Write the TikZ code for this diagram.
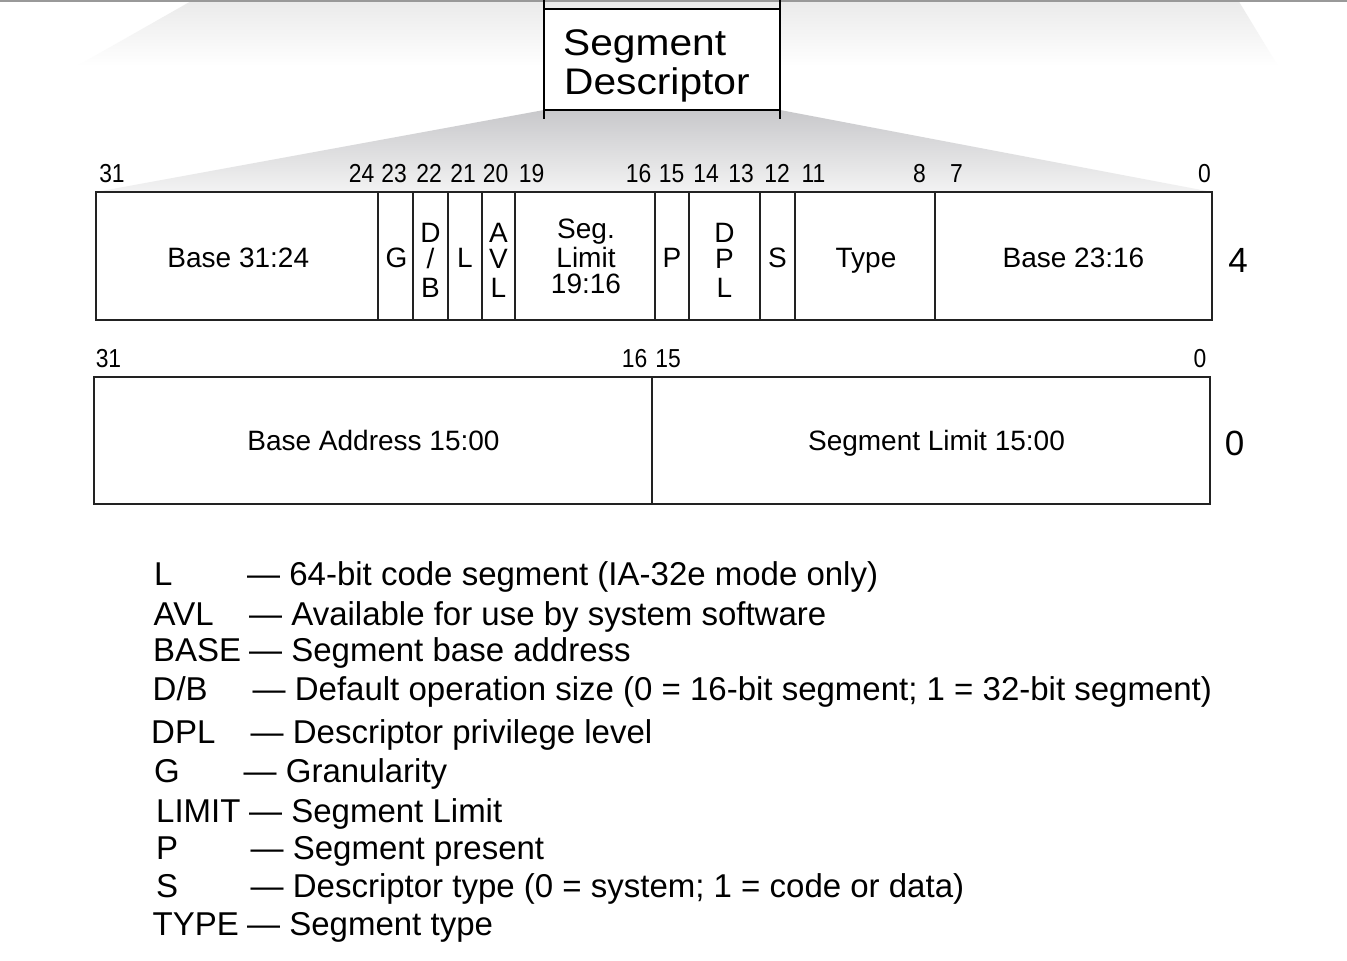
\documentclass[tikz,border=0pt]{standalone}
\usepackage{fontspec}
\setmainfont{Liberation Sans}
\newfontfamily\numfont[FakeStretch=0.88]{Liberation Sans}
\newfontfamily\titlefont[FakeStretch=1.1]{Liberation Sans}
\definecolor{shtop}{HTML}{C8C8CB}
\definecolor{shbot}{HTML}{F3F3F3}
\definecolor{fainttop}{HTML}{EAEAEA}
\definecolor{rule}{HTML}{222222}
\begin{document}
\begin{tikzpicture}[x=1pt,y=-1pt,
  bitnum/.style={font=\numfont\fontsize{26}{26}\selectfont, inner sep=0pt, anchor=base},
  blk/.style={font=\fontsize{28}{28}\selectfont, inner sep=0pt, anchor=base},
  big/.style={font=\fontsize{35}{35}\selectfont, inner sep=0pt, anchor=base},
  ttl/.style={font=\titlefont\fontsize{37}{37}\selectfont, inner sep=0pt, anchor=base west},
  leg/.style={font=\fontsize{33}{33}\selectfont, inner sep=0pt, anchor=base west},
  outer/.style={draw=rule, line width=1.9pt},
  divider/.style={draw=rule, line width=1.1pt}
]
\useasboundingbox (0,0) rectangle (1347,961);
\fill[white] (0,0) rectangle (1347,961);
% faint background trapezoid
\shade[top color=fainttop, bottom color=white] (193,0) -- (1238,0) -- (1278,66) -- (77,66) -- cycle;
% top gray rule
\draw[color=black!40, line width=1.5pt] (0,0.75) -- (1347,0.75);
% fan-out shading
\shade[top color=shtop, bottom color=shbot] (544,110) -- (780,110) -- (1212,192) -- (96,192) -- cycle;
% Segment Descriptor box
\fill[white] (544,9) rectangle (780,110);
\draw[line width=1.8pt] (544,0) -- (544,119);
\draw[line width=1.8pt] (780,0) -- (780,119);
\draw[line width=1.5pt] (544,9) -- (780,9);
\draw[line width=1.5pt] (544,110) -- (780,110);
\node[ttl] (ttl1) at (563,55) {Segment};
\node[ttl] (ttl2) at (564,94) {Descriptor};

% bit numbers row 4
\foreach \n/\x in {31/112,24/361.5,23/394,22/429,21/463,20/495.5,19/531.5,16/638.5,15/671.5,14/706,13/741,12/777,11/813.5,8/919.5,7/956.5,0/1204.5}
  \node[bitnum] (t\n) at (\x,182) {\n};

% row 4 box
\fill[white] (96,192) rectangle (1212,320);
\foreach \x in {378,413,448,482,515,655,689,760,795,935}
  \draw[divider] (\x,192) -- (\x,320);
\draw[outer] (96,192) rectangle (1212,320);

\node[blk] (base3124) at (238.3,267) {Base 31:24};
\node[blk] (g) at (396.5,267) {G};
\node[blk] (db1) at (430.5,242) {D};
\node[blk] (db2) at (430.5,268) {/};
\node[blk] (db3) at (430.5,297) {B};
\node[blk] (l) at (465,267) {L};
\node[blk] (avl1) at (498.5,242) {A};
\node[blk] (avl2) at (498.5,268) {V};
\node[blk] (avl3) at (498.5,297) {L};
\node[blk] (lim1) at (586,238) {Seg.};
\node[blk] (lim2) at (586,267) {Limit};
\node[blk] (lim3) at (586,293) {19:16};
\node[blk] (p) at (672,267) {P};
\node[blk] (dpl1) at (724.5,242) {D};
\node[blk] (dpl2) at (724.5,268) {P};
\node[blk] (dpl3) at (724.5,297) {L};
\node[blk] (s) at (777.5,267) {S};
\node[blk] (type) at (866,267) {Type};
\node[blk] (base2316) at (1073.5,267) {Base 23:16};
\node[big] (four) at (1238,272) {4};

% bit numbers row 0
\foreach \n/\x in {31/108.5,16/634.5,15/668,0/1200}
  \node[bitnum] (b\n) at (\x,367) {\n};

% row 0 box
\draw[divider] (652,377) -- (652,504);
\draw[outer] (94,377) rectangle (1210,504);
\node[blk] (baseaddr) at (373.5,450) {Base Address 15:00};
\node[blk] (seglim) at (936.5,450) {Segment Limit 15:00};
\node[big] (zero) at (1234.5,455) {0};

% legend
\node[leg] (kL) at (154,585) {L};
\node[leg] (dL) at (247,585) {— 64-bit code segment (IA-32e mode only)};
\node[leg] (kAVL) at (153.5,625) {AVL};
\node[leg] (dAVL) at (249,625) {— Available for use by system software};
\node[leg] (kBASE) at (153,661) {BASE};
\node[leg] (dBASE) at (249,661) {— Segment base address};
\node[leg] (kDB) at (152.5,700) {D/B};
\node[leg] (dDB) at (252.5,700) {— Default operation size (0 = 16-bit segment; 1 = 32-bit segment)};
\node[leg] (kDPL) at (151,743) {DPL};
\node[leg] (dDPL) at (250.5,743) {— Descriptor privilege level};
\node[leg] (kG) at (154,782) {G};
\node[leg] (dG) at (243.5,782) {— Granularity};
\node[leg] (kLIMIT) at (156,822) {LIMIT};
\node[leg] (dLIMIT) at (249,822) {— Segment Limit};
\node[leg] (kP) at (156,859) {P};
\node[leg] (dP) at (250.5,859) {— Segment present};
\node[leg] (kS) at (156,897) {S};
\node[leg] (dS) at (250.5,897) {— Descriptor type (0 = system; 1 = code or data)};
\node[leg] (kTYPE) at (152.5,935) {TYPE};
\node[leg] (dTYPE) at (247,935) {— Segment type};
\end{tikzpicture}
\end{document}
